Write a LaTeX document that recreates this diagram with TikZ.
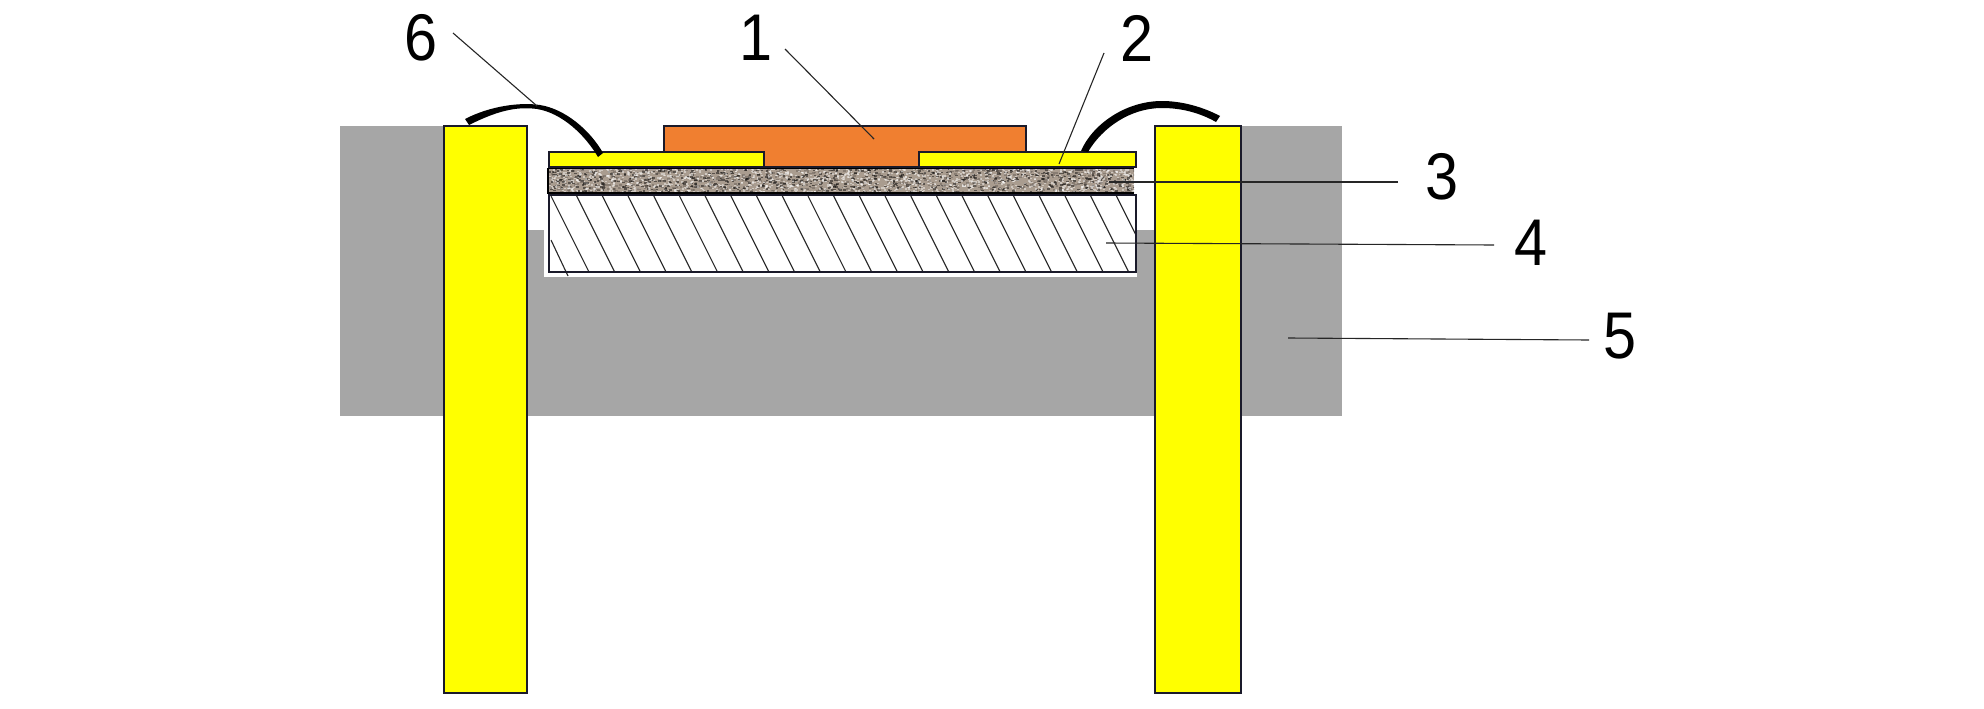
\documentclass[tikz,border=0pt]{standalone}
\usepackage{fontspec}
\setmainfont{Liberation Sans}
\definecolor{gr}{HTML}{A6A6A6}
\definecolor{yl}{HTML}{FFFF00}
\definecolor{og}{HTML}{F07F30}
\definecolor{bs}{HTML}{A99C8F}
\definecolor{ln}{HTML}{1A1A2A}
\tikzset{
 part/.style={draw=ln,line width=1.3pt},
 leader/.style={draw=black!85,line width=1.1pt},
 hatchline/.style={draw=black!85,line width=1.1pt},
 num/.style={font=\fontsize{66}{66}\selectfont,xscale=.9,inner sep=0pt,text=black},
 wire/.style={fill=black,draw=none}
}
\begin{document}
\begin{tikzpicture}[x=1pt,y=-1pt]
\useasboundingbox (0,0) rectangle (1984,709);
\fill[white] (0,0) rectangle (1984,709);
% housing
\fill[gr] (340,126) rectangle (1342,416);
\fill[white] (527,120) rectangle (1155,230);
\fill[white] (544,230) rectangle (1137,277);
% hatched substrate
\begin{scope}
\clip (549,195) rectangle (1136,272);
\foreach \k in {0,...,23}{
  \draw[hatchline] ({551+25.7*\k},196) -- ({551+25.7*\k+38.5},273);
}
\end{scope}
\draw[hatchline] (551,240) -- (568,276);
\draw[part] (549,195) rectangle (1136,272);
% grainy layer
\fill[bs] (548,168) rectangle (1134,193);
\begin{scope}
\clip (548,168) rectangle (1134,193);
\pgfmathsetseed{7}
\foreach \k in {1,...,1500}{
  \pgfmathsetmacro{\px}{548+586*rnd}
  \pgfmathsetmacro{\py}{168+25*rnd}
  \pgfmathsetmacro{\sh}{rnd<0.5?35:85}
  \fill[black!\sh!bs,opacity=.55] (\px,\py) rectangle +(2.6,1.6);
  \pgfmathsetmacro{\qx}{548+586*rnd}
  \pgfmathsetmacro{\qy}{168+25*rnd}
  \fill[white,opacity=.45] (\qx,\qy) rectangle +(2,1.5);
}
\end{scope}
\draw[draw=black,line width=2.6pt] (548,168) -- (548,193) -- (1134,193);
\draw[draw=black,line width=1.6pt] (548,168) -- (1134,168);
% chip and pads
\draw[part,fill=og] (664,126) rectangle (1026,167);
\draw[part,fill=yl] (549,152) rectangle (764,167);
\draw[part,fill=yl] (919,152) rectangle (1136,167);
% pins
\draw[part,fill=yl] (444,126) rectangle (527,693);
\draw[part,fill=yl] (1155,126) rectangle (1241,693);
% bond wires
\fill[black] (465,119) .. controls (490,106) and (520,102) .. (540,105)
  .. controls (565,109) and (590,130) .. (603,153)
  -- (598,157) .. controls (585,135) and (562,113) .. (537,109)
  .. controls (515,106) and (495,112) .. (469,125) -- cycle;
\fill[black] (1081,151) .. controls (1092,125) and (1125,101) .. (1162,101)
  .. controls (1182,101) and (1203,107) .. (1220,116)
  -- (1216,122) .. controls (1200,113) and (1182,108) .. (1162,108)
  .. controls (1130,108) and (1102,128) .. (1088,152) -- cycle;
% labels
\node[num] (n6) at (421,38) {6};
\node[num] (n1) at (756,38) {1};
\node[num] (n2) at (1137,38) {2};
\node[num] (n3) at (1442,177) {3};
\node[num] (n4) at (1531,243) {4};
\node[num] (n5) at (1620,336) {5};
% leader ends
\coordinate (a6) at (453,33);  \coordinate (b6) at (537,106);
\coordinate (a1) at (785,49);  \coordinate (b1) at (874,139);
\coordinate (a2) at (1104,53); \coordinate (b2) at (1059,164);
\coordinate (a3) at (1398,182);\coordinate (b3) at (1109,182);
\coordinate (a4) at (1494,245);\coordinate (b4) at (1106,243);
\coordinate (a5) at (1589,340);\coordinate (b5) at (1288,338);
\foreach \i in {1,...,6}{ \draw[leader] (a\i) -- (b\i); }
\end{tikzpicture}
\end{document}
